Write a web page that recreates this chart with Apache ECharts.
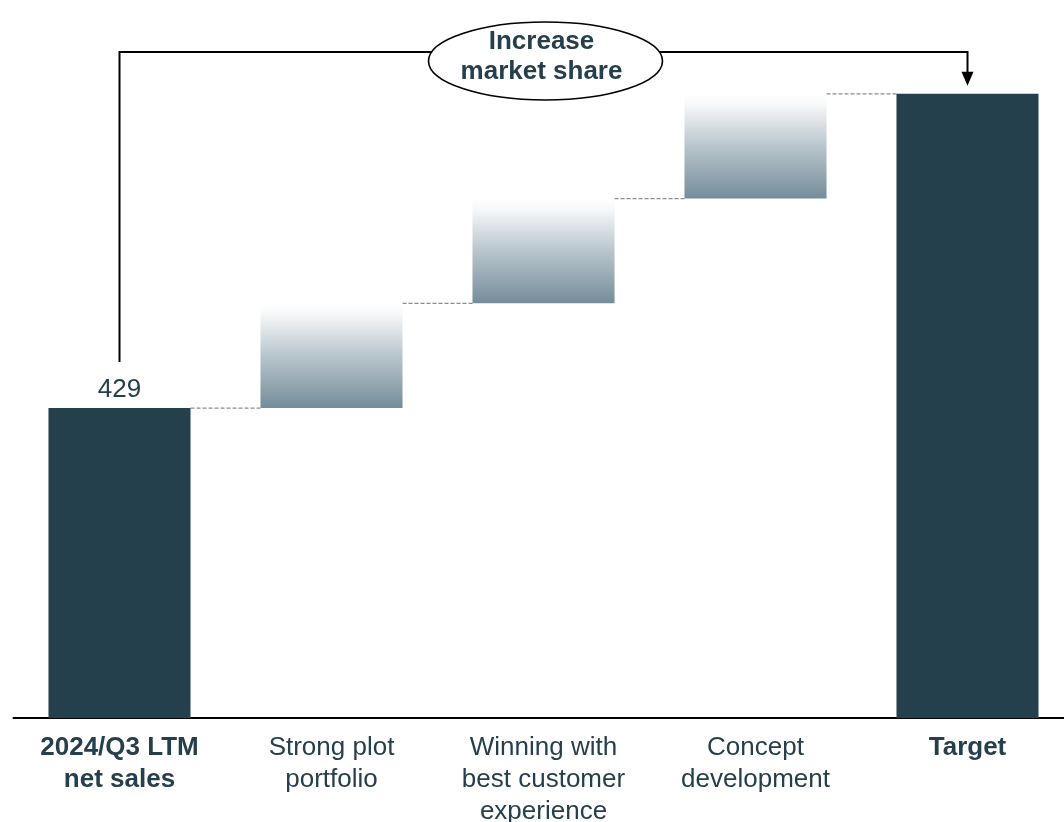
<!DOCTYPE html>
<html>
<head>
<meta charset="utf-8">
<script src="https://cdn.jsdelivr.net/npm/echarts@6/dist/echarts.min.js"></script>
<style>
  html, body { margin: 0; padding: 0; background: #fff; }
  #container_01 { width: 1064px; height: 822px; }
</style>
</head>
<body>
<div id="container_01"></div>
<script>
// categories and values
const categories = ['2024/Q3 LTM\nnet sales', 'Strong plot\nportfolio', 'Winning with\nbest customer\nexperience', 'Concept\ndevelopment', 'Target'];
const start_value = 429;
const steps = [145, 145, 145];
const target_value = start_value + steps.reduce(function (a, b) { return a + b; }, 0);
const bold_index = [0, 4];
const bracket_text = 'Increase\nmarket share';

const dark = '#25404d';
const text_color = '#263f4c';

// build the waterfall (invisible base + visible part)
let base = [0];
let shown = [start_value];
let level = start_value;
steps.forEach(function (s) {
    base.push(level);
    shown.push(s);
    level += s;
});
base.push(0);
shown.push(target_value);

// connector levels: top of every bar except the last
let connectors = [];
let run = start_value;
connectors.push([0, run]);
steps.forEach(function (s, i) {
    run += s;
    connectors.push([i + 1, run]);
});

const BAR_RATIO = 0.67;

var chartDom = document.getElementById('container_01');
var myChart = echarts.init(chartDom, null, { renderer: 'canvas' });
var option;

const stepGradient = new echarts.graphic.LinearGradient(0, 0, 0, 1, [
    { offset: 0, color: '#ffffff' },
    { offset: 0.1, color: '#f7f8f9' },
    { offset: 0.5, color: '#b9c5cc' },
    { offset: 1, color: '#748d9a' }
]);

option = {
    animation: false,
    grid: { left: 13.5, right: -9.5, top: 10, bottom: 104, outerBoundsMode: 'none', containLabel: false },
    xAxis: {
        type: 'category',
        data: categories,
        axisTick: { show: false },
        axisLine: { lineStyle: { color: '#000', width: 2 } },
        axisLabel: {
            margin: 14,
            interval: 0,
            lineHeight: 32,
            fontSize: 26,
            fontFamily: 'Liberation Sans, Arial, sans-serif',
            color: text_color,
            formatter: function (value, idx) {
                return bold_index.indexOf(idx) >= 0 ? '{b|' + value + '}' : value;
            },
            rich: {
                b: {
                    fontWeight: 'bold',
                    fontSize: 26,
                    lineHeight: 32,
                    fontFamily: 'Liberation Sans, Arial, sans-serif',
                    color: text_color
                }
            }
        }
    },
    yAxis: {
        type: 'value',
        min: 0,
        max: 980,
        show: false,
        splitLine: { show: false }
    },
    series: [
        {
            name: 'base',
            type: 'bar',
            stack: 'w',
            silent: true,
            barWidth: (BAR_RATIO * 100) + '%',
            itemStyle: { color: 'transparent' },
            data: base
        },
        {
            name: 'value',
            type: 'bar',
            stack: 'w',
            barWidth: (BAR_RATIO * 100) + '%',
            data: shown.map(function (v, i) {
                let item = { value: v };
                if (i === 0 || i === shown.length - 1) {
                    item.itemStyle = { color: dark };
                } else {
                    item.itemStyle = { color: stepGradient };
                }
                if (i === 0) {
                    item.label = {
                        show: true,
                        position: 'top',
                        distance: 5,
                        fontSize: 26,
                        fontFamily: 'Liberation Sans, Arial, sans-serif',
                        color: text_color,
                        formatter: String(start_value)
                    };
                }
                return item;
            })
        },
        {
            name: 'connector',
            type: 'custom',
            silent: true,
            z: 1,
            renderItem: function (params, api) {
                let i = api.value(0);
                let y = api.value(1);
                let p = api.coord([i, y]);
                let band = api.size([1, 0])[0];
                let half = band * BAR_RATIO / 2;
                return {
                    type: 'line',
                    shape: { x1: p[0] + half, y1: p[1], x2: p[0] + band - half, y2: p[1] },
                    style: { stroke: '#8c8c8c', lineWidth: 1.3, lineDash: [4, 2] }
                };
            },
            data: connectors
        }
    ]
};

myChart.setOption(option);

// bracket annotation over the chart
function drawBracket() {
    let xL = myChart.convertToPixel({ xAxisIndex: 0 }, 0);
    let xR = myChart.convertToPixel({ xAxisIndex: 0 }, categories.length - 1);
    let yStart = myChart.convertToPixel({ yAxisIndex: 0 }, start_value);
    let yTarget = myChart.convertToPixel({ yAxisIndex: 0 }, target_value);
    let yLine = 52;
    let cx = (xL + xR) / 2 + 2;
    let rx = 117, ry = 39, cy = 61;
    myChart.setOption({
        graphic: [
            {
                type: 'polyline',
                shape: { points: [[xL, yStart - 46], [xL, yLine], [xR, yLine], [xR, yTarget - 20]] },
                style: { stroke: '#000', lineWidth: 2, fill: null },
                z: 10
            },
            {
                type: 'polygon',
                shape: { points: [[xR - 6, yTarget - 22], [xR + 6, yTarget - 22], [xR, yTarget - 8]] },
                style: { fill: '#000' },
                z: 10
            },
            {
                type: 'ellipse',
                shape: { cx: cx, cy: cy, rx: rx, ry: ry },
                style: { fill: '#fff', stroke: '#000', lineWidth: 1.6 },
                z: 11
            },
            {
                type: 'text',
                x: cx - 4,
                y: cy - 4,
                style: {
                    text: bracket_text,
                    fontSize: 26,
                    fontWeight: 'bold',
                    lineHeight: 30,
                    fontFamily: 'Liberation Sans, Arial, sans-serif',
                    fill: text_color,
                    align: 'center',
                    verticalAlign: 'middle'
                },
                z: 12
            }
        ]
    });
}
drawBracket();

window.addEventListener('resize', function () {
    myChart.resize();
    drawBracket();
});
</script>
</body>
</html>
